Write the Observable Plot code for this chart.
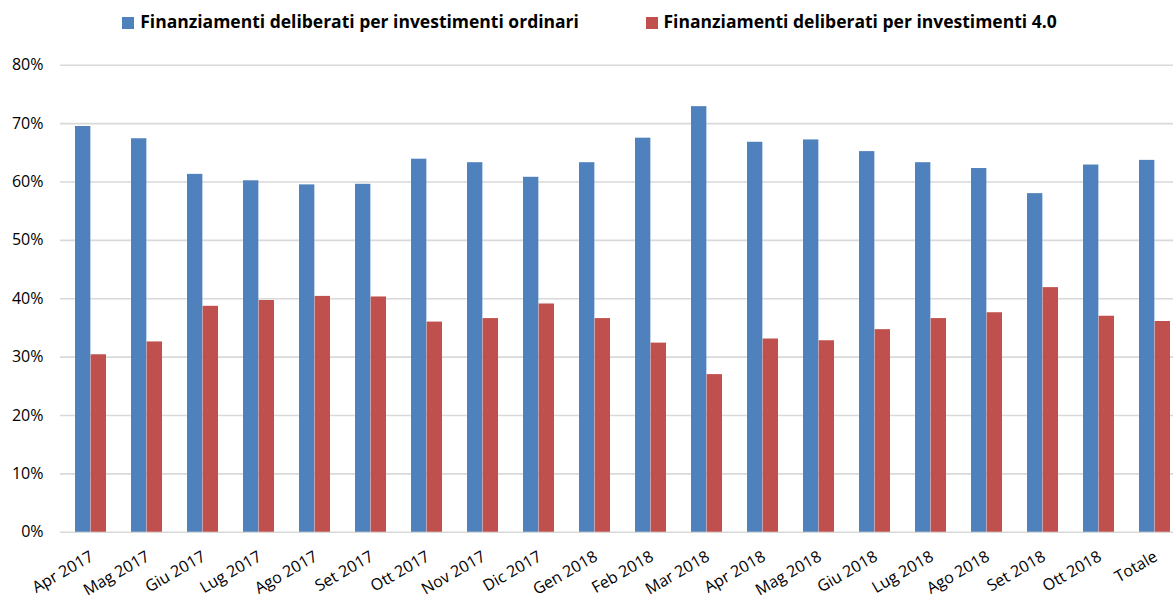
<!DOCTYPE html>
<html>
<head>
<meta charset="utf-8">
<script src="https://cdn.jsdelivr.net/npm/d3@7"></script>
<script src="https://cdn.jsdelivr.net/npm/@observablehq/plot@0.6"></script>
<style>
  html, body { margin: 0; padding: 0; background: #fff; overflow: hidden; }
  #legend { position: relative; width: 1173px; height: 44px; font-family: "Open Sans", sans-serif; font-weight: 700; font-size: 17.5px; color: #000; }
  #legend .sw { position: absolute; top: 17.3px; width: 11.5px; height: 11.5px; }
  #legend .lb { position: absolute; top: 11.3px; line-height: 20px; white-space: nowrap; }
  #chart svg { display: block; }
</style>
</head>
<body>
<div id="legend"></div>
<div id="chart"></div>
<script>
const months = ["Apr 2017","Mag 2017","Giu 2017","Lug 2017","Ago 2017","Set 2017","Ott 2017","Nov 2017","Dic 2017","Gen 2018","Feb 2018","Mar 2018","Apr 2018","Mag 2018","Giu 2018","Lug 2018","Ago 2018","Set 2018","Ott 2018","Totale"];
const ordinari = [69.5, 67.4, 61.3, 60.2, 59.5, 59.6, 63.9, 63.3, 60.8, 63.3, 67.5, 72.9, 66.8, 67.2, 65.2, 63.3, 62.3, 58.0, 62.9, 63.7];
const inv40   = [30.4, 32.6, 38.7, 39.7, 40.4, 40.3, 36.0, 36.6, 39.1, 36.6, 32.4, 27.0, 33.1, 32.8, 34.7, 36.6, 37.6, 41.9, 37.0, 36.1];
const seriesNames = ["Finanziamenti deliberati per investimenti ordinari", "Finanziamenti deliberati per investimenti 4.0"];
const seriesColors = ["#4F81BD", "#C0504D"];
const yTicks = [0, 10, 20, 30, 40, 50, 60, 70, 80];

// legend
const legend = document.getElementById("legend");
const legendPos = [{sw: 122.3, lb: 140.2}, {sw: 646, lb: 663.5}];
seriesNames.forEach((name, i) => {
  const s = document.createElement("div");
  s.className = "sw"; s.style.left = legendPos[i].sw + "px"; s.style.background = seriesColors[i];
  const l = document.createElement("div");
  l.className = "lb"; l.style.left = legendPos[i].lb + "px"; l.textContent = name;
  legend.appendChild(s); legend.appendChild(l);
});

const rows = [];
months.forEach((m, i) => {
  rows.push({month: m, series: seriesNames[0], value: ordinari[i]});
  rows.push({month: m, series: seriesNames[1], value: inv40[i]});
});

const W = 1173, H = 557;
const xRange = [60, 1186];
const pIn = 0.444, pOut = 0.222;
const step = (xRange[1] - xRange[0]) / (months.length - pIn + 2 * pOut);
const bw = step * (1 - pIn);

const chart = Plot.plot({
  width: W,
  height: H,
  marginLeft: 60,
  marginRight: 0,
  marginTop: 20.7,
  marginBottom: 69.25,
  style: {fontFamily: "'Open Sans', sans-serif", background: "#fff", color: "#000"},
  x: {domain: months, range: xRange, paddingInner: pIn, paddingOuter: pOut, axis: null},
  y: {domain: [0, 80], axis: null},
  marks: [
    Plot.ruleY(yTicks, {stroke: "#d9d9d9", strokeWidth: 1.6}),
    Plot.barY(rows.filter(d => d.series === seriesNames[0]), {x: "month", y: "value", fill: seriesColors[0], insetRight: bw / 2}),
    Plot.barY(rows.filter(d => d.series === seriesNames[1]), {x: "month", y: "value", fill: seriesColors[1], insetLeft: bw / 2}),
    Plot.axisY(yTicks, {tickSize: 0, tickPadding: 17, tickFormat: d => d + "%", fontSize: 16, label: null, fill: "#000"}),
    Plot.axisX(months, {tickSize: 0, tickPadding: 23, tickRotate: -30, fontSize: 16, label: null, fill: "#000", dx: 1})
  ]
});
document.getElementById("chart").appendChild(chart);
</script>
</body>
</html>
